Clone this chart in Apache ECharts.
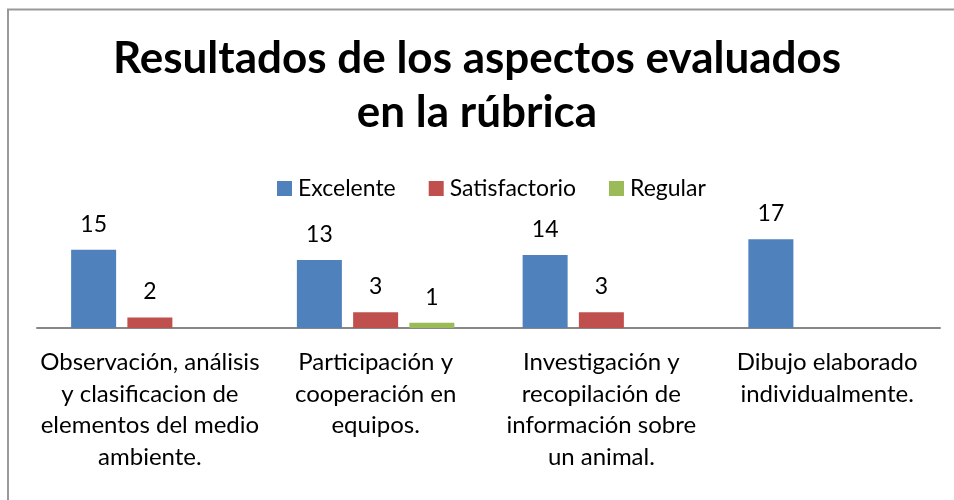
<!DOCTYPE html>
<html>
<head>
<meta charset="utf-8">
<script src="https://cdn.jsdelivr.net/npm/echarts@6/dist/echarts.min.js"></script>
<style>
  html, body { margin: 0; padding: 0; background: #fff; }
  #chart { width: 954px; height: 500px; }
</style>
</head>
<body>
<div id="chart"></div>
<script>
const categories = [
  'Observación, análisis\ny clasificacion de\nelementos del medio\nambiente.',
  'Participación y\ncooperación en\nequipos.',
  'Investigación y\nrecopilación de\ninformación sobre\nun animal.',
  'Dibujo elaborado\nindividualmente.'
]
const excelente = [15, 13, 14, 17]
const satisfactorio = [2, 3, 3, null]
const regular = [null, 1, null, null]

const font = 'Lato, "Open Sans", sans-serif'

const chart = echarts.init(document.getElementById('chart'))

const labelStyle = {
  show: true,
  position: 'top',
  distance: 14,
  color: '#000',
  fontSize: 23,
  fontFamily: font
}

chart.setOption({
  animation: false,
  title: {
    text: 'Resultados de los aspectos evaluados\nen la rúbrica',
    left: 'center',
    top: 27,
    textStyle: {
      fontFamily: font,
      fontWeight: 'bold',
      fontSize: 44,
      lineHeight: 54,
      color: '#000'
    }
  },
  legend: {
    top: 172,
    left: 272,
    itemWidth: 15,
    itemHeight: 15,
    itemGap: 33,
    itemStyle: { borderWidth: 0 },
    icon: 'rect',
    textStyle: { fontFamily: font, fontSize: 23, color: '#000', padding: [0, 0, 0, 1] },
    data: ['Excelente', 'Satisfactorio', 'Regular']
  },
  grid: { left: 37, right: 14, top: 234, bottom: 172 },
  xAxis: {
    type: 'category',
    data: categories,
    axisTick: { show: false },
    axisLine: { lineStyle: { color: '#878787', width: 2 } },
    axisLabel: {
      interval: 0,
      margin: 19,
      color: '#000',
      fontFamily: font,
      fontSize: 24,
      lineHeight: 31.5,
      align: 'center'
    }
  },
  yAxis: {
    type: 'value',
    min: 0,
    max: 18,
    show: false,
    splitLine: { show: false }
  },
  series: [
    {
      name: 'Excelente', type: 'bar', data: excelente,
      barWidth: 45, barGap: '25%',
      itemStyle: { color: '#4f81bd' }, label: labelStyle
    },
    {
      name: 'Satisfactorio', type: 'bar', data: satisfactorio,
      barWidth: 45, barGap: '25%',
      itemStyle: { color: '#c0504d' }, label: labelStyle
    },
    {
      name: 'Regular', type: 'bar', data: regular,
      barWidth: 45, barGap: '25%',
      itemStyle: { color: '#9bbb59' }, label: labelStyle
    }
  ],
  graphic: [{
    type: 'rect',
    shape: { x: 8, y: 9.5, width: 1000, height: 600 },
    style: { fill: 'none', stroke: '#999', lineWidth: 2 }
  }]
})
</script>
</body>
</html>
